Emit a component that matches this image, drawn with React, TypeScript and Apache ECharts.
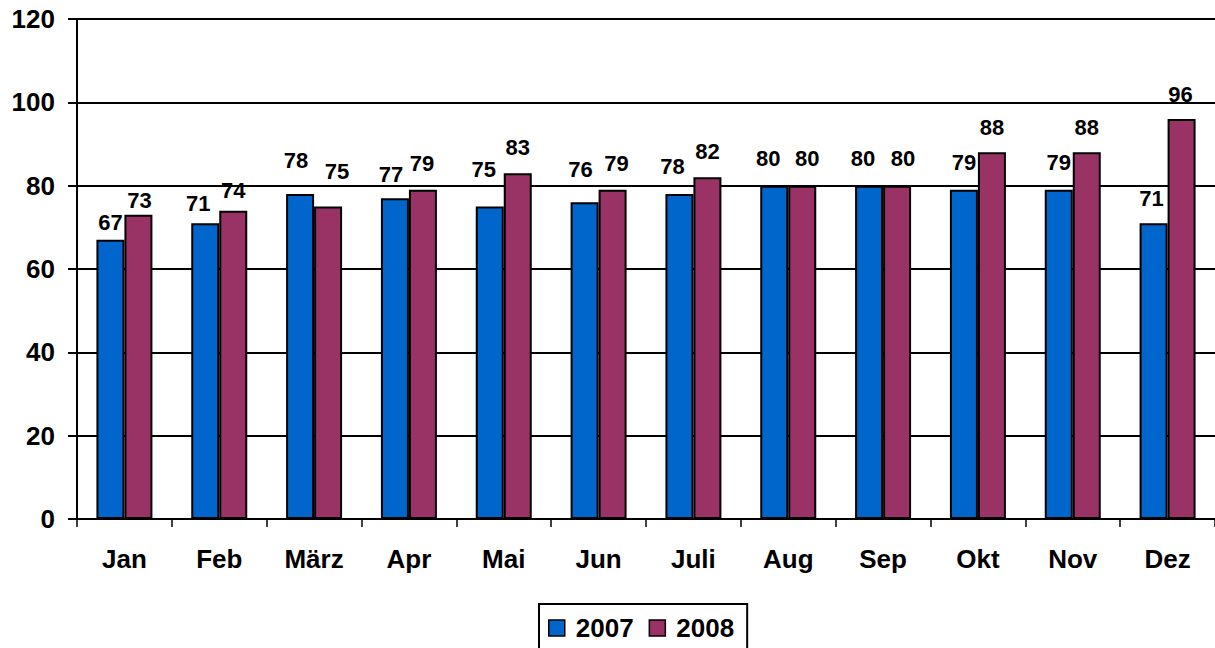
import React, { useEffect, useRef } from "react";
import * as echarts from "echarts";

const categories = ["Jan", "Feb", "März", "Apr", "Mai", "Jun", "Juli", "Aug", "Sep", "Okt", "Nov", "Dez"];
const values2007 = [67, 71, 78, 77, 75, 76, 78, 80, 80, 79, 79, 71];
const values2008 = [73, 74, 75, 79, 83, 79, 82, 80, 80, 88, 88, 96];
const yTicks = { min: 0, max: 120, interval: 20 };

// label nudges [dx, dy] (px) to mimic the hand-placed labels of the original
const labelNudge2007 = [[0, 9], [-7, 6], [-4, -8], [-4, 2], [-6, -11], [-4, -7], [-7, -2], [-6, -1], [-6, -1], [0, -1], [0, -1], [-2, 1]];
const labelNudge2008 = [[1, 12], [0, 6], [9, -9], [-1, 0], [0, 0], [4, 0], [0, 0], [5, -1], [6, -1], [0, 1], [0, 1], [-1, 1]];

const FONT = "'Liberation Sans', Arial, sans-serif";

export default function App() {
  const ref = useRef<HTMLDivElement>(null);
  useEffect(() => {
    if (!ref.current) return;
    const chart = echarts.init(ref.current, undefined, { renderer: "svg" });
    const mk = (vals: number[], nudge: number[][]) =>
      vals.map((v, i) => ({ value: v, label: { offset: nudge[i] } }));
    const labelStyle = {
      show: true,
      position: "top",
      distance: 15,
      color: "#000",
      fontFamily: FONT,
      fontWeight: "bold",
      fontSize: 22,
    };
    chart.setOption({
      animation: false,
      backgroundColor: "#fff",
      textStyle: { fontFamily: FONT },
      grid: { left: 77, top: 19, width: 1141, height: 500, containLabel: false },
      legend: {
        data: ["2007", "2008"],
        left: 539,
        top: 604,
        orient: "horizontal",
        borderColor: "#000",
        borderWidth: 2,
        padding: [11, 13, 11, 9],
        itemGap: 15,
        itemWidth: 16,
        itemHeight: 16,
        icon: "rect",
        itemStyle: { borderColor: "#000", borderWidth: 1.5 },
        textStyle: { color: "#000", fontFamily: FONT, fontWeight: "bold", fontSize: 26, padding: [0, 0, 0, 6] },
      },
      xAxis: {
        type: "category",
        data: categories,
        axisLine: { show: true, lineStyle: { color: "#000", width: 2 } },
        axisTick: { show: true, length: 8, lineStyle: { color: "#000", width: 1.5 } },
        axisLabel: { color: "#000", fontFamily: FONT, fontWeight: "bold", fontSize: 26, margin: 27 },
      },
      yAxis: {
        type: "value",
        min: yTicks.min,
        max: yTicks.max,
        interval: yTicks.interval,
        axisLine: { show: true, lineStyle: { color: "#000", width: 2 } },
        axisTick: { show: true, length: 9, lineStyle: { color: "#000", width: 2 } },
        axisLabel: { color: "#000", fontFamily: FONT, fontWeight: "bold", fontSize: 26, margin: 22 },
        splitLine: { show: true, lineStyle: { color: "#000", width: 2 } },
      },
      series: [
        {
          name: "2007",
          type: "bar",
          data: mk(values2007, labelNudge2007),
          barWidth: 28,
          barGap: "0%",
          itemStyle: { color: "#0066CC", borderColor: "#000", borderWidth: 2 },
          label: labelStyle,
        },
        {
          name: "2008",
          type: "bar",
          data: mk(values2008, labelNudge2008),
          barWidth: 28,
          barGap: "0%",
          itemStyle: { color: "#993366", borderColor: "#000", borderWidth: 2 },
          label: labelStyle,
        },
      ],
    });
    return () => chart.dispose();
  }, []);
  return <div ref={ref} style={{ position: "fixed", left: 0, top: 0, width: 1215, height: 648 }} />;
}
